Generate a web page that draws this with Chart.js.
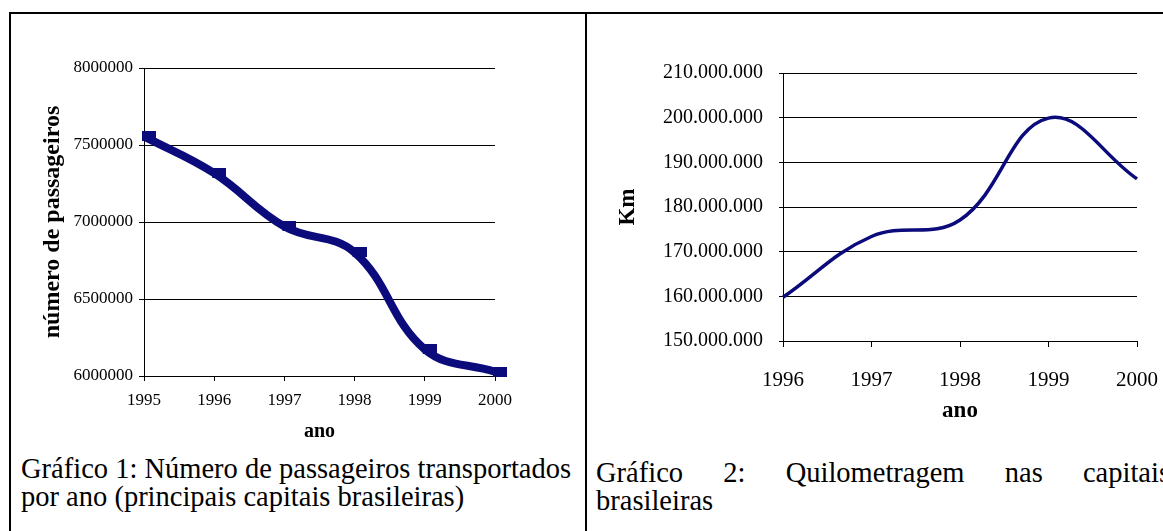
<!DOCTYPE html>
<html>
<head>
<meta charset="utf-8">
<script src="https://cdn.jsdelivr.net/npm/chart.js@4/dist/chart.umd.min.js"></script>
<style>
  html, body { margin:0; padding:0; background:#fff; }
  body { width:1163px; height:531px; overflow:hidden; position:relative; font-family:'Liberation Serif', serif; color:#000; }
  .line { position:absolute; background:#000; }
  .cap { position:absolute; font-family:'Liberation Serif', serif; font-size:28.5px; line-height:28px; white-space:nowrap; }
  #c1wrap { position:absolute; left:12px; top:20px; width:560px; height:430px; }
  #c2wrap { position:absolute; left:590px; top:20px; width:573px; height:420px; }
</style>
</head>
<body>
<div class="line" style="left:9px; top:12px; width:1154px; height:2px;"></div>
<div class="line" style="left:9px; top:12px; width:2px; height:519px;"></div>
<div class="line" style="left:585px; top:12px; width:2px; height:519px;"></div>

<div id="c1wrap"><canvas id="c1" width="560" height="430"></canvas></div>
<div id="c2wrap"><canvas id="c2" width="573" height="420"></canvas></div>

<div class="cap" style="left:21px; top:455px;">Gráfico 1: Número de passageiros transportados<br>por ano (principais capitais brasileiras)</div>
<div class="cap" style="left:596px; top:459px; width:574px; text-align:justify; text-align-last:justify;">Gráfico 2: Quilometragem nas capitais</div>
<div class="cap" style="left:596px; top:487px;">brasileiras</div>

<script>
// ---- Data ----
const years1 = ['1995', '1996', '1997', '1998', '1999', '2000'];
const passageiros = [7556000, 7317000, 6971000, 6802000, 6173000, 6028000];
const yTicks1 = [6000000, 6500000, 7000000, 7500000, 8000000];

const years2 = ['1996', '1997', '1998', '1999', '2000'];
const quilometragem = [159800000, 173400000, 177100000, 199900000, 186300000];
const yTicks2 = [150000000, 160000000, 170000000, 180000000, 190000000, 200000000, 210000000];

const navy = '#0b0b7c';
const serif = 'Liberation Serif';

function fmtDots(v) {
  return String(Math.round(v)).replace(/\B(?=(\d{3})+(?!\d))/g, '.');
}

// dash-like square marker (as printed by the original spreadsheet, slightly right of the point)
const marker = document.createElement('canvas');
marker.width = 24; marker.height = 10;
(function () {
  const g = marker.getContext('2d');
  g.fillStyle = navy;
  g.fillRect(10, 0, 14, 10);
})();

// ---- Chart 1 ----
new Chart(document.getElementById('c1'), {
  type: 'line',
  data: {
    labels: years1,
    datasets: [{
      data: passageiros,
      borderColor: navy,
      backgroundColor: navy,
      borderWidth: 8,
      tension: 0.4,
      pointStyle: marker,
      pointRadius: 6,
      clip: false
    }]
  },
  options: {
    responsive: false,
    animation: false,
    layout: { padding: { top: 48, right: 77, left: 0, bottom: 0 } },
    plugins: { legend: { display: false }, tooltip: { enabled: false } },
    scales: {
      x: {
        type: 'category',
        offset: false,
        grid: { drawOnChartArea: false, drawTicks: true, tickLength: 5, color: '#000', lineWidth: 1 },
        border: { color: '#000', width: 1 },
        ticks: { font: { family: serif, size: 17 }, color: '#000', padding: 9, maxRotation: 0, autoSkip: false },
        title: { display: true, text: 'ano', font: { family: serif, size: 20, weight: 'bold' }, color: '#000', padding: { top: 0, bottom: 6 } },
        afterFit: s => { s.height = 74; s.paddingLeft = 0; s.paddingRight = 0; }
      },
      y: {
        min: yTicks1[0],
        max: yTicks1[yTicks1.length - 1],
        afterBuildTicks: s => { s.ticks = yTicks1.map(v => ({ value: v })); },
        grid: { drawOnChartArea: true, drawTicks: true, tickLength: 5, color: '#000', lineWidth: 1 },
        border: { color: '#000', width: 1 },
        ticks: { font: { family: serif, size: 17 }, color: '#000', padding: 6, callback: v => String(v) },
        title: { display: true, text: 'número de passageiros', font: { family: serif, size: 24, weight: 'bold' }, color: '#000', padding: { top: 26, bottom: 0 } },
        afterFit: s => { s.width = 132; }
      }
    }
  }
});

// ---- Chart 2 ----
new Chart(document.getElementById('c2'), {
  type: 'line',
  data: {
    labels: years2,
    datasets: [{
      data: quilometragem,
      borderColor: navy,
      borderWidth: 3.5,
      tension: 0.4,
      pointRadius: 0,
      clip: false
    }]
  },
  options: {
    responsive: false,
    animation: false,
    layout: { padding: { top: 53, right: 26, left: 0, bottom: 0 } },
    plugins: { legend: { display: false }, tooltip: { enabled: false } },
    scales: {
      x: {
        type: 'category',
        offset: false,
        grid: { drawOnChartArea: false, drawTicks: true, tickLength: 6, color: '#000', lineWidth: 1 },
        border: { color: '#000', width: 1 },
        ticks: { font: { family: serif, size: 21 }, color: '#000', padding: 21, maxRotation: 0, autoSkip: false },
        title: { display: true, text: 'ano', font: { family: serif, size: 23, weight: 'bold' }, color: '#000', padding: { top: 0, bottom: 15 } },
        afterFit: s => { s.height = 99; s.paddingLeft = 0; s.paddingRight = 0; }
      },
      y: {
        min: yTicks2[0],
        max: yTicks2[yTicks2.length - 1],
        afterBuildTicks: s => { s.ticks = yTicks2.map(v => ({ value: v })); },
        grid: { drawOnChartArea: true, drawTicks: true, tickLength: 4, color: '#000', lineWidth: 1 },
        border: { color: '#000', width: 1 },
        ticks: { font: { family: serif, size: 20 }, color: '#000', padding: 16, callback: v => fmtDots(v) },
        title: { display: true, text: 'Km', font: { family: serif, size: 23, weight: 'bold' }, color: '#000', padding: { top: 24, bottom: 0 } },
        afterFit: s => { s.width = 193; }
      }
    }
  }
});
</script>
</body>
</html>
